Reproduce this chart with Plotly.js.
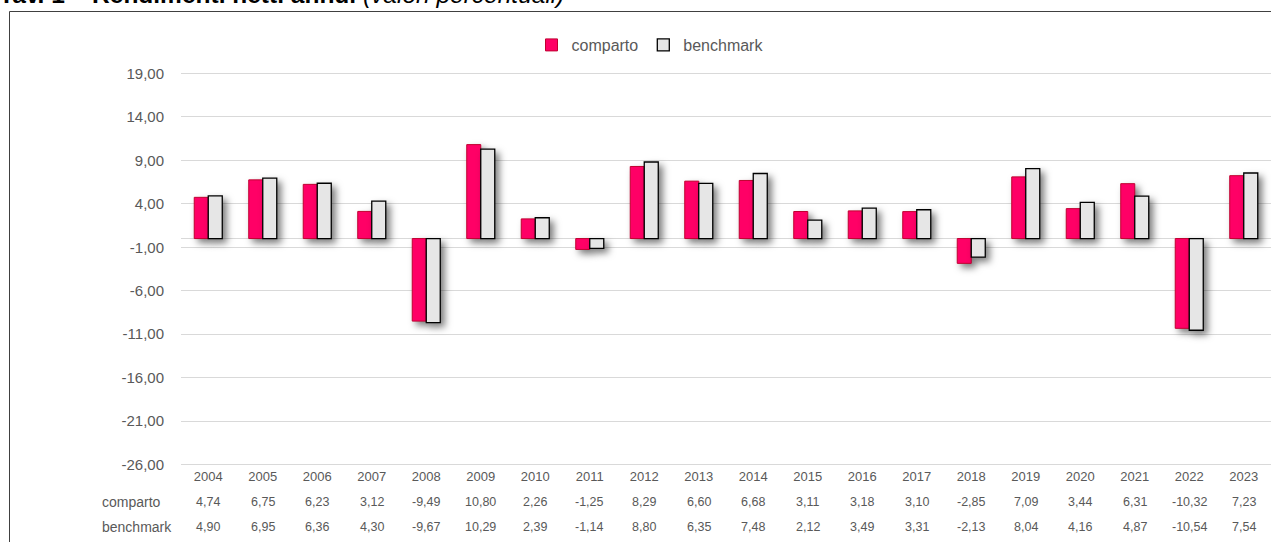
<!DOCTYPE html>
<html>
<head>
<meta charset="utf-8">
<script src="https://cdn.plot.ly/plotly-3.0.1.min.js"></script>
<style>
html,body{margin:0;padding:0;background:#fff;}
#chart{width:1271px;height:542px;}
#chart .barlayer .trace.bars .point path{filter:drop-shadow(4px 4px 3.5px rgba(0,0,0,0.5));}
</style>
</head>
<body>
<div id="chart"></div>
<script>
const years = ['2004','2005','2006','2007','2008','2009','2010','2011','2012','2013','2014','2015','2016','2017','2018','2019','2020','2021','2022','2023'];
const comparto = [4.74,6.75,6.23,3.12,-9.49,10.80,2.26,-1.25,8.29,6.60,6.68,3.11,3.18,3.10,-2.85,7.09,3.44,6.31,-10.32,7.23];
const benchmark = [4.90,6.95,6.36,4.30,-9.67,10.29,2.39,-1.14,8.80,6.35,7.48,2.12,3.49,3.31,-2.13,8.04,4.16,4.87,-10.54,7.54];
const yTicks = [-26,-21,-16,-11,-6,-1,4,9,14,19];
const seriesNames = ['comparto','benchmark'];
const titleBold = 'Tav. 1 – Rendimenti netti annui';
const titleItalic = '(valori percentuali)';

const fmt = v => v.toFixed(2).replace('.', ',');
const grey = '#595959';
const font = 'Liberation Sans, Arial, sans-serif';

const traces = [
  {type:'bar', name:seriesNames[0], x:years, y:comparto,
   marker:{color:'#FF0066', line:{color:'#C00030', width:1}}, hoverinfo:'y'},
  {type:'bar', name:seriesNames[1], x:years, y:benchmark,
   marker:{color:'#E6E6E6', line:{color:'#000000', width:1.3}}, hoverinfo:'y'}
];

const W = 1090, H = 394, L = 181, T = 72;
const px2x = p => (p - L) / W;
const py2y = p => 1 + (T - p) / H;

const annotations = [];
years.forEach((yr, i) => {
  annotations.push({xref:'x', yref:'paper', x:i, y:py2y(502), text:fmt(comparto[i]),
    showarrow:false, font:{family:font, size:12.5, color:grey}, xanchor:'center', yanchor:'middle'});
  annotations.push({xref:'x', yref:'paper', x:i, y:py2y(527), text:fmt(benchmark[i]),
    showarrow:false, font:{family:font, size:12.5, color:grey}, xanchor:'center', yanchor:'middle'});
});
annotations.push({xref:'paper', yref:'paper', x:px2x(100), y:py2y(502), text:seriesNames[0],
  showarrow:false, font:{family:font, size:14, color:grey}, xanchor:'left', yanchor:'middle'});
annotations.push({xref:'paper', yref:'paper', x:px2x(100), y:py2y(527), text:seriesNames[1],
  showarrow:false, font:{family:font, size:14, color:grey}, xanchor:'left', yanchor:'middle'});
annotations.push({xref:'paper', yref:'paper', x:px2x(-3), y:py2y(10), xanchor:'left', yanchor:'bottom',
  text:'<b>'+titleBold+'</b> <i>'+titleItalic+'</i>', showarrow:false,
  font:{family:font, size:24.5, color:'#000'}});

const layout = {
  width:1271, height:542,
  margin:{l:L, r:0, t:T, b:542-T-H, pad:0},
  paper_bgcolor:'#fff', plot_bgcolor:'#fff',
  separators:',.',
  barmode:'group', bargap:0.486, bargroupgap:0,
  showlegend:true,
  legend:{orientation:'h', x:px2x(650), xanchor:'center', y:py2y(45), yanchor:'middle',
    font:{family:font, size:16, color:grey}, itemwidth:30, traceorder:'normal', bgcolor:'rgba(0,0,0,0)'},
  xaxis:{type:'category', range:[-0.5, 19.5], showgrid:false, zeroline:false, showline:false, ticks:'',
    tickfont:{family:font, size:13, color:grey}, ticklabelstandoff:1, fixedrange:true},
  yaxis:{range:[-26.15,19.15], tickvals:yTicks, ticktext:yTicks.map(fmt),
    showgrid:true, gridcolor:'#d9d9d9', gridwidth:1,
    zeroline:true, zerolinecolor:'#d9d9d9', zerolinewidth:1,
    showline:false, ticks:'', ticklabelstandoff:16,
    tickfont:{family:font, size:15, color:grey}, fixedrange:true},
  shapes:[{type:'rect', xref:'paper', yref:'paper', x0:px2x(9.5), x1:px2x(1290), y0:py2y(560), y1:py2y(11.5),
    line:{color:'#404040', width:1}, fillcolor:'rgba(0,0,0,0)', layer:'below'}],
  annotations:annotations
};

Plotly.newPlot('chart', traces, layout, {displayModeBar:false, staticPlot:true});
</script>
</body>
</html>
